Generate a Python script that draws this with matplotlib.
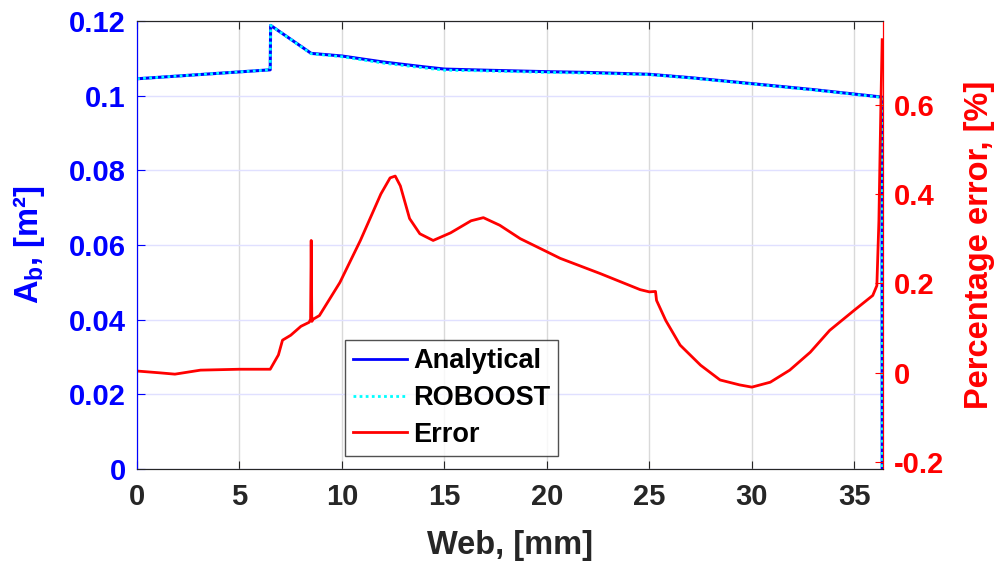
import matplotlib
matplotlib.use("Agg")
import matplotlib.pyplot as plt
from matplotlib.lines import Line2D

plt.rcParams['font.family'] = ['Liberation Sans', 'DejaVu Sans']
plt.rcParams['font.weight'] = 'bold'
plt.rcParams['mathtext.fontset'] = 'custom'
plt.rcParams['mathtext.bf'] = 'Liberation Sans:bold'
plt.rcParams['mathtext.rm'] = 'Liberation Sans:bold'

# area curves (left axis)
web_an = [0, 6.5, 6.52, 8.5, 10, 12, 14, 15, 17, 20, 22, 25, 27, 30, 33, 36.35, 36.36]
ab_an = [0.1045, 0.1069, 0.1188, 0.1113, 0.1106, 0.1090, 0.1077, 0.1071, 0.1068,
         0.1064, 0.1062, 0.1057, 0.1048, 0.1032, 0.1016, 0.0996, 0.0]
ab_rb = [0.1045, 0.1069, 0.1188, 0.1112, 0.1104, 0.1087, 0.1074, 0.1068, 0.1066,
         0.1062, 0.1060, 0.1056, 0.1047, 0.1031, 0.1015, 0.0995, 0.0]

# percentage error (right axis)
web_err = [0, 1.1, 1.85, 3.1, 5, 6.5, 6.9, 7.1, 7.5, 8.0, 8.4, 8.47, 8.5, 8.53, 8.6, 8.9,
           9.9, 10.9, 11.9, 12.35, 12.6, 12.85, 13.3, 13.8, 14.45, 15.3, 16.3, 16.9,
           17.7, 18.7, 19.9, 20.65, 22.6, 24.55, 25.0, 25.3, 25.35, 25.8, 26.5, 27.5,
           28.45, 29.4, 30.0, 30.9, 31.85, 32.85, 33.8, 35.0, 35.9, 36.1, 36.2, 36.3, 36.36]
err = [0.004, 0.0, -0.003, 0.006, 0.008, 0.008, 0.04, 0.073, 0.084, 0.104, 0.113, 0.12, 0.296,
       0.115, 0.12, 0.128, 0.202, 0.296, 0.40, 0.436, 0.44, 0.418, 0.345, 0.311, 0.296,
       0.313, 0.34, 0.347, 0.33, 0.30, 0.273, 0.256, 0.222, 0.186, 0.181, 0.182, 0.162,
       0.117, 0.062, 0.017, -0.016, -0.027, -0.032, -0.021, 0.006, 0.046, 0.095, 0.14,
       0.173, 0.195, 0.34, 0.607, 0.745]

blue = '#0000ff'
red = '#ff0000'
dark = '#262626'

fig = plt.figure(figsize=(10, 5.65), dpi=100)
ax = fig.add_axes([0.137, 0.170, 0.746, 0.793])
ax2 = ax.twinx()

ax.plot(web_an, ab_an, color=blue, lw=2.2)
ax.plot(web_an, ab_rb, color='#00ffff', lw=2, ls=(0, (1, 1.2)))
ax2.plot(web_err, err, color=red, lw=2)

ax.set_xlim(0, 36.4)
ax.set_ylim(0, 0.12)
ax2.set_ylim(-0.215, 0.787)

ax.set_xticks(range(0, 36, 5))
ax.set_yticks([0, 0.02, 0.04, 0.06, 0.08, 0.1, 0.12])
ax.set_yticklabels(['0', '0.02', '0.04', '0.06', '0.08', '0.1', '0.12'])
ax2.set_yticks([-0.2, 0, 0.2, 0.4, 0.6])
ax2.set_yticklabels(['-0.2', '0', '0.2', '0.4', '0.6'])

ax.xaxis.grid(True, color='#d9d9d9', lw=1)
ax.yaxis.grid(True, color='#e0e0ff', lw=1)
ax.set_axisbelow(True)

ax.tick_params(axis='x', direction='in', top=True, length=6, colors=dark, labelsize=21, pad=10)
ax.tick_params(axis='y', direction='in', length=6, colors=blue, labelsize=21, pad=8)
ax2.tick_params(axis='y', direction='in', length=6, colors=red, labelsize=21, pad=8)
for lab in ax.get_xticklabels() + ax.get_yticklabels() + ax2.get_yticklabels():
    lab.set_fontweight('bold')

for a in (ax, ax2):
    a.spines['top'].set_color(dark)
    a.spines['bottom'].set_color(dark)
    a.spines['left'].set_color(blue)
    a.spines['right'].set_color(red)

ax.set_xlabel('Web, [mm]', fontsize=23.5, fontweight='bold', color=dark, labelpad=14)
ax.set_ylabel(r'A$_\mathbf{b}$, [m²]', fontsize=23.5, fontweight='bold', color=blue, labelpad=16)
ax2.set_ylabel('Percentage error, [%]', fontsize=23.5, fontweight='bold', color=red, labelpad=14)

handles = [Line2D([], [], color=blue, lw=2),
           Line2D([], [], color='#00ffff', lw=2, ls=(0, (1, 1.2))),
           Line2D([], [], color=red, lw=2)]
leg = ax2.legend(handles, ['Analytical', 'ROBOOST', 'Error'], loc='lower left',
                 bbox_to_anchor=(0.279, 0.029), fontsize=19.5, frameon=True, fancybox=False,
                 edgecolor=dark, handlelength=2.0, handletextpad=0.2, borderpad=0.3,
                 labelspacing=0.4, borderaxespad=0)
leg.get_frame().set_linewidth(1)
for t in leg.get_texts():
    t.set_fontweight('bold')

fig.savefig('out.png', dpi=100)
